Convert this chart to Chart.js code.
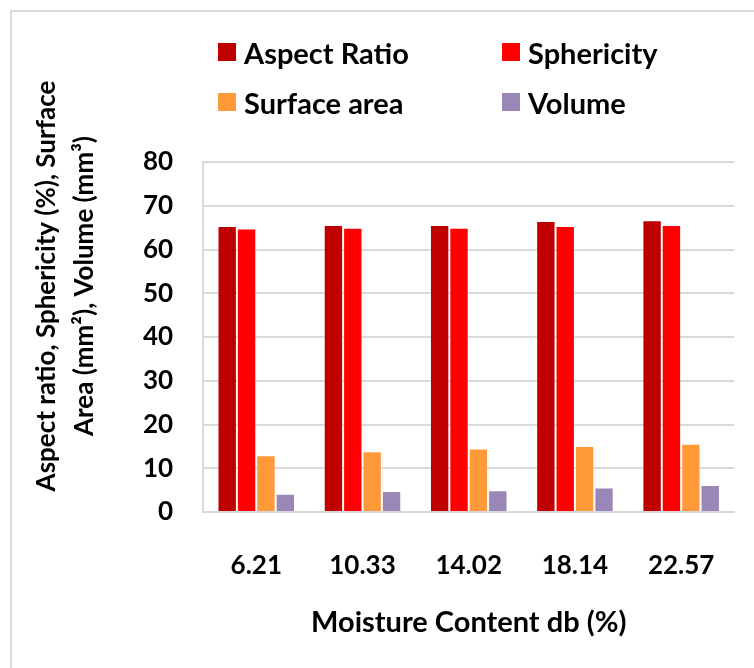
<!DOCTYPE html>
<html>
<head>
<meta charset="utf-8">
<script src="https://cdn.jsdelivr.net/npm/chart.js@4.4.0/dist/chart.umd.min.js"></script>
<style>
  html, body { margin: 0; padding: 0; background: #fff; }
  #wrap { position: relative; width: 754px; height: 668px; overflow: hidden; }
  #frame { position: absolute; left: 10px; top: 10px; width: 760px; height: 680px; border: 2px solid #d9d9d9; box-sizing: border-box; }
  #grafico { position: absolute; left: 0; top: 0; }
  .leg { position: absolute; height: 30px; display: flex; align-items: center; font: bold 29px Lato, sans-serif; color: #000; white-space: nowrap; }
  .leg span { display: inline-block; width: 18px; height: 18px; margin-right: 8px; }
</style>
</head>
<body>
<div id="wrap">
  <div id="frame"></div>
  <canvas id="grafico" width="754" height="668"></canvas>
  <div id="legenda"></div>
</div>
<script>
"use strict";
// dados
var categorias = ["6.21", "10.33", "14.02", "18.14", "22.57"];
var aspectRatio = [65.4, 65.6, 65.6, 66.5, 66.7];
var sphericity = [64.8, 65.0, 65.0, 65.4, 65.6];
var surfaceArea = [13.0, 13.9, 14.5, 15.1, 15.6];
var volume = [4.2, 4.8, 5.0, 5.6, 6.2];
var yTicks = [0, 10, 20, 30, 40, 50, 60, 70, 80];

var nomes = ["Aspect Ratio", "Sphericity", "Surface area", "Volume"];
var cores = ["#C00000", "#FF0000", "#FF9A3A", "#9B87B7"];
var series = [aspectRatio, sphericity, surfaceArea, volume];

// legenda em html, duas colunas
var legPos = [[218, 37], [502, 37], [218, 87], [502, 87]];
var leg = document.getElementById("legenda");
for (var i = 0; i < nomes.length; i++) {
    var d = document.createElement("div");
    d.className = "leg";
    d.style.left = legPos[i][0] + "px";
    d.style.top = legPos[i][1] + "px";
    d.innerHTML = '<span style="background:' + cores[i] + '"></span>' + nomes[i];
    leg.appendChild(d);
}

var bars = [];
for (var j = 0; j < series.length; j++) {
    bars.push({
        label: nomes[j],
        data: series[j],
        backgroundColor: cores[j],
        borderColor: "rgba(255,255,255,0.35)",
        borderWidth: 1,
        categoryPercentage: 0.73,
        barPercentage: 1.0
    });
}

// titulo do eixo y desenhado a mao (duas linhas, fora do centro da area)
var yTitulo = {
    id: "yTitulo",
    afterDraw: function (chart) {
        var ctx = chart.ctx;
        ctx.save();
        ctx.fillStyle = "#000";
        ctx.font = "bold 26px Lato, sans-serif";
        ctx.textAlign = "center";
        ctx.textBaseline = "middle";
        ctx.translate(47, 286);
        ctx.rotate(-Math.PI / 2);
        ctx.fillText("Aspect ratio, Sphericity (%), Surface", 0, 0);
        ctx.fillText("Area (mm\u00B2), Volume (mm\u00B3)", 0, 38);
        ctx.restore();
    }
};

var ctx = document.getElementById("grafico").getContext("2d");
var chart = new Chart(ctx, {
    type: "bar",
    data: { labels: categorias, datasets: bars },
    plugins: [yTitulo],
    options: {
        responsive: false,
        animation: false,
        layout: { padding: { left: 113, right: 16, top: 162, bottom: 28 } },
        plugins: { legend: { display: false }, tooltip: { enabled: false } },
        scales: {
            x: {
                grid: { display: false, drawTicks: false },
                border: { color: "#d9d9d9", width: 2 },
                ticks: { color: "#000", font: { family: "Lato", weight: "bold", size: 26 }, padding: 38 },
                title: { display: true, text: "Moisture Content db (%)", color: "#000",
                    font: { family: "Lato", weight: "bold", size: 29 }, padding: { top: -14, bottom: 0 } }
            },
            y: {
                min: 0, max: 80,
                afterBuildTicks: function (s) { s.ticks = yTicks.map(function (v) { return { value: v }; }); },
                grid: { color: "#d9d9d9", lineWidth: 2, drawTicks: false },
                border: { color: "#d9d9d9", width: 2 },
                ticks: { color: "#000", font: { family: "Lato", weight: "bold", size: 26 }, padding: 30 }
            }
        }
    }
});
</script>
</body>
</html>
